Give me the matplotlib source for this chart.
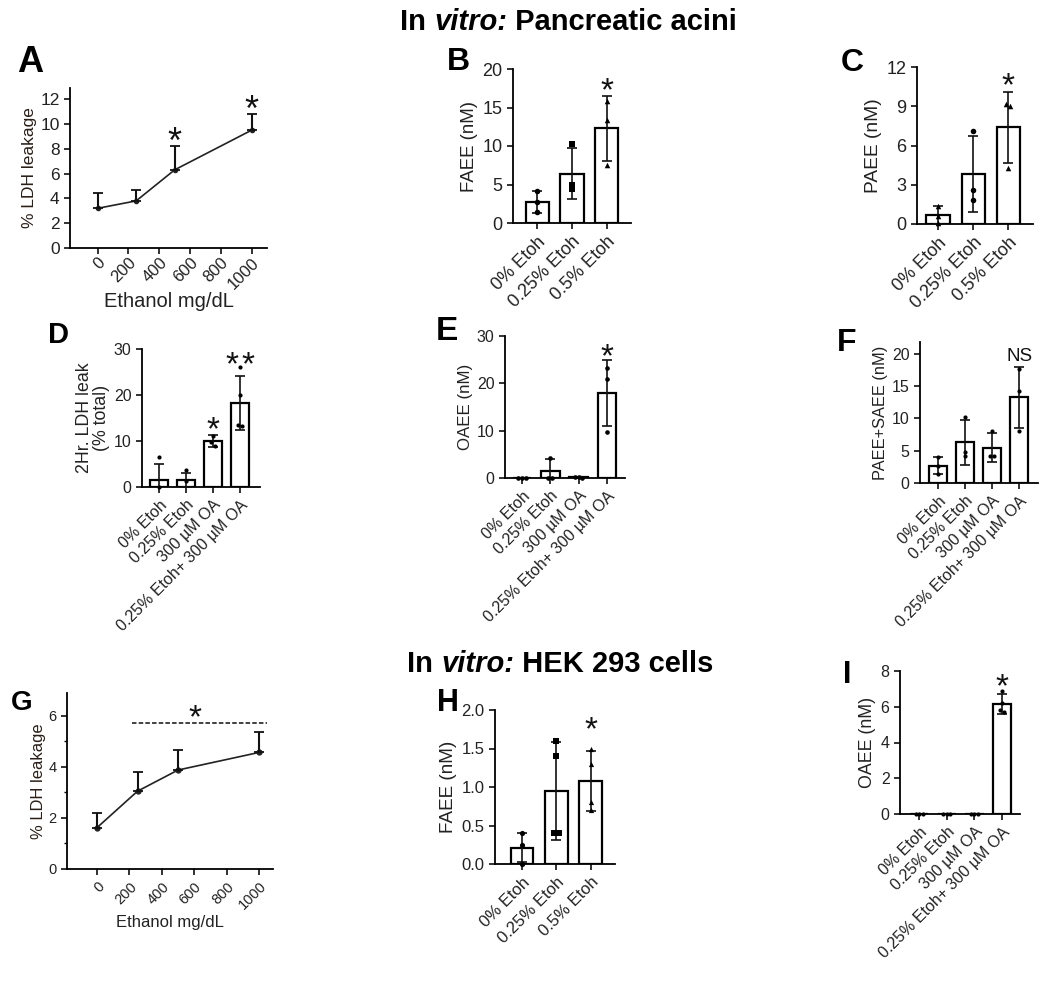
import numpy as np
import matplotlib
matplotlib.use('Agg')
import matplotlib.pyplot as plt

plt.rcParams['font.family'] = ['Liberation Sans', 'DejaVu Sans']

W, H = 1050, 984

# ---------------- data ----------------
dose = [0, 250, 500, 1000]
dose_ticks = [0, 200, 400, 600, 800, 1000]

a_mean = [3.2, 3.8, 6.3, 9.5]
a_err = [1.2, 0.9, 1.9, 1.3]

g_mean = [1.62, 3.05, 3.88, 4.57]
g_err = [0.58, 0.75, 0.80, 0.81]

etoh3 = ['0% Etoh', '0.25% Etoh', '0.5% Etoh']
etoh_oa = ['0% Etoh', '0.25% Etoh', '300 µM OA', '0.25% Etoh+ 300 µM OA']

b_mean = [2.7, 6.4, 12.3]
b_sd = [1.4, 3.3, 4.2]
b_pts = [[4.1, 2.7, 1.4], [10.3, 4.9, 4.4], [15.9, 13.4, 7.5]]

c_mean = [0.7, 3.8, 7.4]
c_sd = [0.7, 2.9, 2.7]
c_pts = [[1.4, 0.6, 0.1], [7.1, 2.6, 1.8], [9.2, 9.0, 4.3]]

d_mean = [1.6, 1.5, 10.0, 18.3]
d_sd = [3.4, 1.6, 1.3, 5.9]
d_pts = [[6.5, 0.0, -1.7], [3.7, 1.2, -0.4], [11.0, 9.7, 9.0], [26.0, 20.0, 13.4, 13.2]]

e_mean = [0.0, 1.5, 0.2, 18.0]
e_sd = [0.0, 2.5, 0.1, 7.0]
e_pts = [[0.0, 0.0, 0.0], [4.2, 0.1, 0.0], [0.3, 0.2, 0.1], [23.3, 21.0, 9.7]]

f_mean = [2.7, 6.3, 5.5, 13.3]
f_sd = [1.3, 3.5, 2.3, 4.7]
f_pts = [[4.0, 2.7, 1.4], [10.2, 4.8, 4.2], [8.0, 4.2, 4.2], [17.6, 14.2, 8.1]]

h_mean = [0.21, 0.95, 1.08]
h_sd = [0.19, 0.64, 0.39]
h_pts = [[0.4, 0.25, 0.0], [1.6, 1.4, 0.4, 0.4], [1.5, 1.3, 0.8, 0.7]]

i_mean = [0.0, 0.0, 0.0, 6.15]
i_sd = [0.0, 0.0, 0.0, 0.55]
i_pts = [[0.0, 0.0, 0.0], [0.0, 0.0, 0.0], [0.0, 0.0, 0.0], [6.9, 6.2, 5.8, 5.7]]


def rect(l, r, t, b):
    return [l / W, 1 - b / H, (r - l) / W, (b - t) / H]


def spread(vals, tol, step):
    # side-by-side offsets for points that would overlap
    vals = np.asarray(vals, float)
    off = np.zeros(len(vals))
    used = np.zeros(len(vals), bool)
    for i in range(len(vals)):
        if used[i]:
            continue
        grp = [j for j in range(len(vals)) if not used[j] and abs(vals[j] - vals[i]) < tol]
        for k, j in enumerate(grp):
            off[j] = (k - (len(grp) - 1) / 2) * step
            used[j] = True
    return off


def style(ax, fs):
    for s in ['top', 'right']:
        ax.spines[s].set_visible(False)
    for s in ['left', 'bottom']:
        ax.spines[s].set_linewidth(1.3)
    ax.tick_params(width=1.3, length=4, labelsize=fs, colors='#222222')


def bar_panel(ax, labels, means, sds, pts, markers, ymax, yticks, ylabel,
              fs, lfs, yfs, xlim, msize=12):
    x = np.arange(len(means))
    ax.bar(x, means, width=0.66, color='white', edgecolor='black',
           linewidth=1.6, zorder=2)
    ax.errorbar(x, means, yerr=sds, fmt='none', ecolor='#111111',
                elinewidth=1.2, capsize=3.5, capthick=1.2, zorder=3)
    for i, vals in enumerate(pts):
        vals = np.asarray(vals, float)
        off = spread(vals, ymax * 0.025, 0.13)
        keep = vals >= 0
        ax.scatter((i + off)[keep], vals[keep], marker=markers[i], s=msize,
                   color='black', zorder=4, linewidths=0, clip_on=False)
    ax.set_xlim(*xlim)
    ax.set_ylim(0, ymax)
    ax.set_yticks(yticks)
    ax.set_xticks(x)
    ax.set_xticklabels(labels, rotation=45, ha='right', rotation_mode='anchor',
                       fontsize=lfs)
    ax.set_ylabel(ylabel, fontsize=yfs, color='#222222', labelpad=3)
    style(ax, fs)


def star(ax, x, y, s='*', fs=24, k=0.57, **kw):
    # y is where the glyph centre should sit
    ax.annotate(s, (x, y), xytext=(0, -k * fs), textcoords='offset points',
                ha='center', va='baseline', fontsize=fs, color='#111111', **kw)


fig = plt.figure(figsize=(W / 100, H / 100), dpi=100)

# ---- A ----
ax = fig.add_axes(rect(70, 267, 88, 248))
ax.plot(dose, a_mean, color='#222222', lw=1.2, marker='o', ms=3)
ax.errorbar(dose, a_mean, yerr=[np.zeros(4), a_err], fmt='none',
            ecolor='#111111', elinewidth=1.5, capsize=3.5, capthick=1.3)
ax.set_xlim(-180, 1100)
ax.set_ylim(0, 12.9)
ax.set_yticks([0, 2, 4, 6, 8, 10, 12])
ax.set_xticks(dose_ticks)
ax.set_xticklabels([str(t) for t in dose_ticks], rotation=45, ha='right',
                   rotation_mode='anchor', fontsize=12)
ax.set_ylabel('% LDH leakage', fontsize=12.5, color='#2a1f18', labelpad=2)
ax.set_xlabel('Ethanol mg/dL', fontsize=14.5, color='#222222', labelpad=0)
style(ax, 12.5)
ax.tick_params(axis='x', pad=1, labelsize=12)
star(ax, 500, 9.3, fs=26)
star(ax, 1000, 11.9, fs=26)

# ---- B ----
ax = fig.add_axes(rect(513, 631, 69, 223))
bar_panel(ax, etoh3, b_mean, b_sd, b_pts, ['o', 's', '^'], 20, [0, 5, 10, 15, 20],
          'FAEE (nM)', 13, 12.5, 13.4, (-0.69, 2.69), msize=16)
star(ax, 2, 18.4)

# ---- C ----
ax = fig.add_axes(rect(917, 1033, 67, 224))
bar_panel(ax, etoh3, c_mean, c_sd, c_pts, ['^', 'o', '^'], 12, [0, 3, 6, 9, 12],
          'PAEE (nM)', 13, 12.5, 13.8, (-0.6, 2.71), msize=16)
star(ax, 2, 11.3)

# ---- D ----
ax = fig.add_axes(rect(142, 260, 349, 487))
bar_panel(ax, etoh_oa, d_mean, d_sd, d_pts, ['o'] * 4, 30, [0, 10, 20, 30],
          '2Hr. LDH leak\n(% total)', 11.5, 10.5, 12.8, (-0.63, 3.74), msize=9)
ax.yaxis.label.set_linespacing(1.0)
star(ax, 2, 14.6)
star(ax, 2.7, 28.7)
star(ax, 3.3, 28.7)

# ---- E ----
ax = fig.add_axes(rect(505, 625, 336, 478))
bar_panel(ax, etoh_oa, e_mean, e_sd, e_pts, ['o'] * 4, 30, [0, 10, 20, 30],
          'OAEE (nM)', 11.5, 10.5, 12.2, (-0.6, 3.64), msize=11)
star(ax, 3, 27.7)

# ---- F ----
ax = fig.add_axes(rect(920, 1038, 342, 483))
bar_panel(ax, etoh_oa, f_mean, f_sd, f_pts, ['o'] * 4, 21.86, [0, 5, 10, 15, 20],
          'PAEE+SAEE (nM)', 11.5, 10.5, 11.8, (-0.67, 3.7), msize=9)
star(ax, 3, 20, s='NS', fs=13.5, k=0.36)

# ---- G ----
ax = fig.add_axes(rect(67, 273, 693, 869))
ax.plot(dose, g_mean, color='#222222', lw=1.2, marker='o', ms=3.5)
ax.errorbar(dose, g_mean, yerr=[np.zeros(4), g_err], fmt='none',
            ecolor='#111111', elinewidth=1.5, capsize=3.5, capthick=1.3)
ax.plot([216, 1049], [5.72, 5.72], color='#333333', lw=1.3, ls=(0, (2.5, 1.2)))
ax.set_xlim(-185, 1086)
ax.set_ylim(0, 6.9)
ax.set_yticks([0, 2, 4, 6])
ax.set_yticks([1, 3, 5], minor=True)
ax.set_xticks(dose_ticks)
ax.set_xticklabels([str(t) for t in dose_ticks], rotation=45, ha='right',
                   rotation_mode='anchor', fontsize=10.5)
ax.set_ylabel('% LDH leakage', fontsize=11.9, color='#2a1f18', labelpad=2)
ax.set_xlabel('Ethanol mg/dL', fontsize=12, color='#222222', labelpad=2)
style(ax, 10.5)
ax.tick_params(which='minor', width=1.0, length=2.5)
star(ax, 605, 6.3)

# ---- H ----
ax = fig.add_axes(rect(495, 615, 710, 864))
bar_panel(ax, etoh3, h_mean, h_sd, h_pts, ['o', 's', '^'], 2.0,
          [0.0, 0.5, 1.0, 1.5, 2.0], 'FAEE (nM)', 12, 12.5, 13.6,
          (-0.78, 2.7), msize=14)
ax.set_yticklabels(['0.0', '0.5', '1.0', '1.5', '2.0'])
star(ax, 2, 1.87)

# ---- I ----
ax = fig.add_axes(rect(900, 1020, 671, 814))
bar_panel(ax, etoh_oa, i_mean, i_sd, i_pts, ['o'] * 4, 8, [0, 2, 4, 6, 8],
          'OAEE (nM)', 11.5, 10.3, 12.8, (-0.7, 3.65), msize=9)
star(ax, 3, 7.67)

# ---- panel letters ----
letters = [('A', 30, 63, 26), ('B', 458, 62, 23), ('C', 852, 63, 23),
           ('D', 58, 335, 21), ('E', 447, 332, 24), ('F', 847, 343, 23),
           ('G', 22, 703, 20), ('H', 448, 703, 22), ('I', 847, 675, 22)]
for s, px, py, fs in letters:
    fig.text(px / W, 1 - py / H, s, fontsize=fs, fontweight='bold',
             ha='center', va='center')

# ---- section titles ----
ax0 = fig.add_axes([0, 0, 1, 1], zorder=-1)
ax0.axis('off')
for px, py, tail in [(400, 22, ' Pancreatic acini'), (407, 664, ' HEK 293 cells')]:
    t1 = ax0.text(px / W, 1 - py / H, 'In ', fontsize=21, fontweight='bold',
                  ha='left', va='center', transform=ax0.transAxes)
    t2 = ax0.annotate('vitro:', xy=(1, 0), xycoords=t1, fontsize=21,
                      fontweight='bold', fontstyle='italic', ha='left', va='bottom')
    ax0.annotate(tail, xy=(1, 0), xycoords=t2, fontsize=21,
                 fontweight='bold', ha='left', va='bottom')

fig.savefig('out.png', dpi=100)
